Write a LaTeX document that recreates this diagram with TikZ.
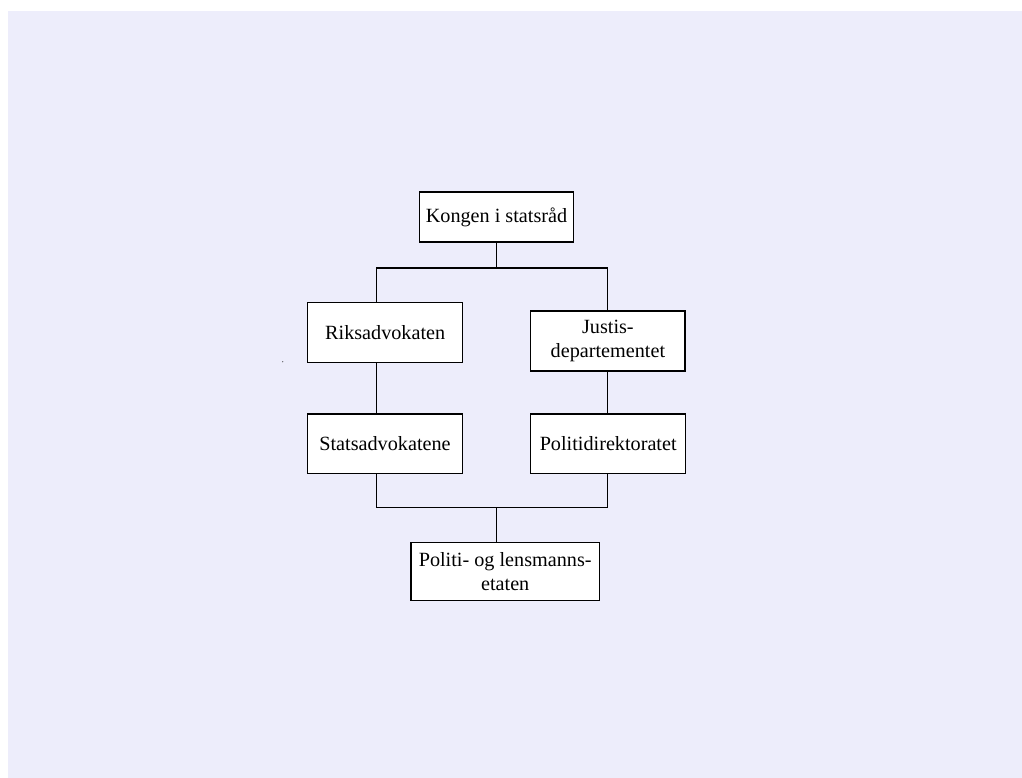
\documentclass[tikz,border=0pt]{standalone}
\usepackage{fontspec}
\setmainfont{Liberation Serif}
\definecolor{bgpat}{RGB}{237,237,251}
\begin{document}
\begin{tikzpicture}[x=1pt,y=-1pt,
  orgbox/.style={draw=black, line width=1.2pt, fill=white, align=center,
    inner sep=0pt, font=\fontsize{20.2}{23.5}\selectfont},
  conn/.style={draw=black, line width=1.2pt}]
\useasboundingbox (0,0) rectangle (1022,778);
\fill[bgpat] (8,11) rectangle (1022,778);
\node[orgbox, minimum width=154pt, minimum height=50pt] (kong) at (496.5,217) {Kongen i statsråd};
\node[orgbox, minimum width=155pt, minimum height=60pt] (riks) at (385.2,332.3) {Riksadvokaten};
\node[orgbox, minimum width=154.3pt, minimum height=60pt] (justis) at (607.9,341) {Justis-\\departementet};
\node[orgbox, minimum width=154.6pt, minimum height=59.3pt] (stats) at (385,443.7) {Statsadvokatene};
\node[orgbox, minimum width=155pt, minimum height=59.3pt] (pdir) at (608.2,443.7) {Politidirektoratet};
\node[orgbox, minimum width=188.3pt, minimum height=58.4pt] (politi) at (505.2,571.5) {Politi- og lensmanns-\\etaten};
\coordinate (jl) at (376.7,268);
\coordinate (jr) at (607.5,268);
\coordinate (bl) at (376.7,507.7);
\coordinate (br) at (607.5,507.7);
\draw[conn] (kong.south) -- (kong.south |- jl);
\draw[conn] (riks.north -| jl) -- (jl) -- (jr) -- (justis.north -| jr);
\draw[conn] (riks.south -| jl) -- (stats.north -| jl);
\draw[conn] (justis.south -| jr) -- (pdir.north -| jr);
\draw[conn] (stats.south -| bl) -- (bl) -- (br) -- (pdir.south -| br);
\draw[conn] (kong.south |- bl) -- (politi.north -| kong.south);
\fill[black!70] (282.7,361.7) circle (0.6pt);
\end{tikzpicture}
\end{document}
